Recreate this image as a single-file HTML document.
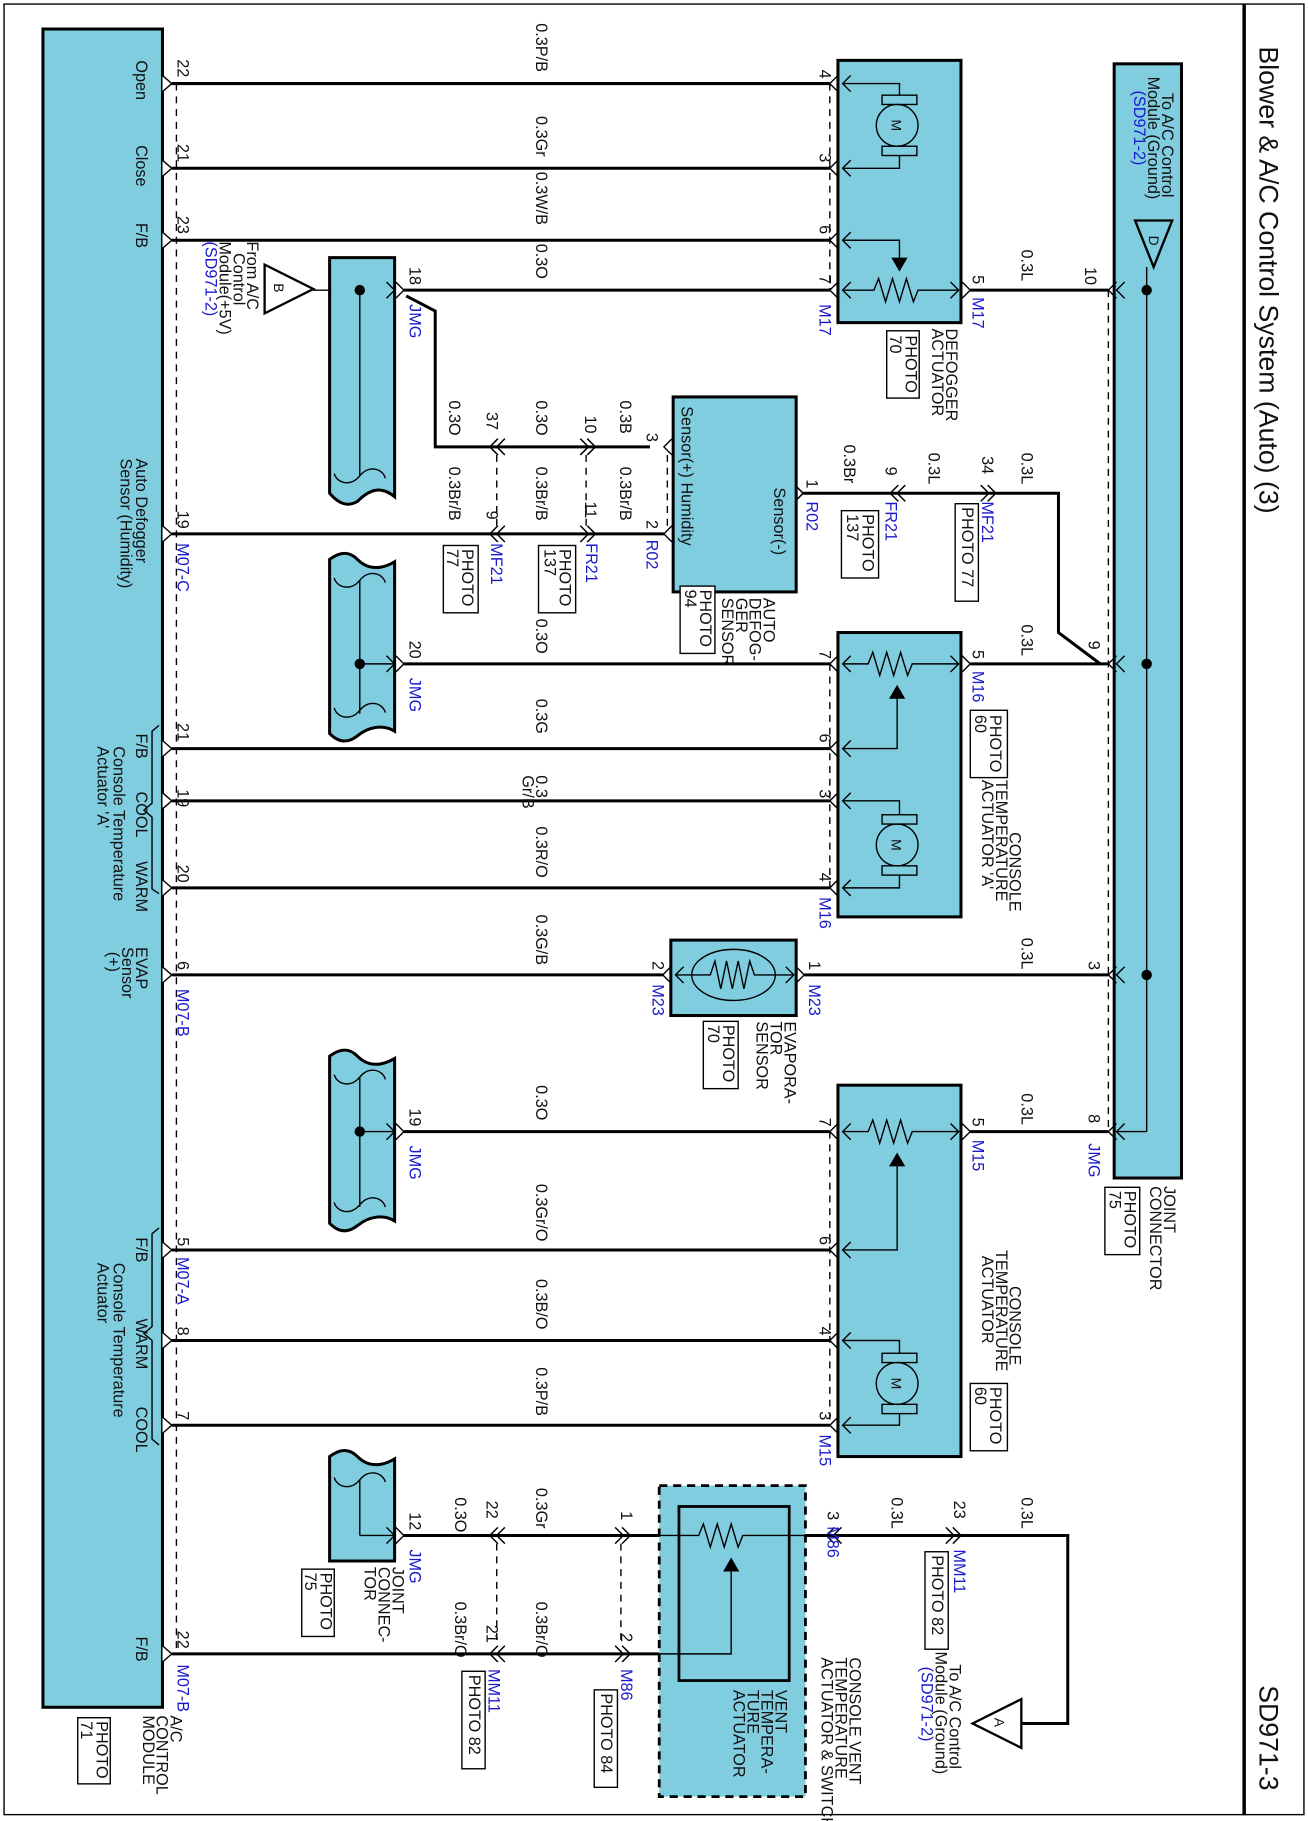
<!DOCTYPE html>
<html><head><meta charset="utf-8"><style>
html,body{margin:0;padding:0;background:#fff}
svg{display:block}
text{font-family:"Liberation Sans",sans-serif;font-size:14px;fill:#111}
.b{fill:#1a1acc}
.w{stroke:#000;stroke-width:2.6;fill:none}
.t{stroke:#000;stroke-width:1.2;fill:none}
.d{stroke:#000;stroke-width:1.2;fill:none;stroke-dasharray:6 5}
.box{fill:#80cde0;stroke:#000;stroke-width:2.6}
.pb{fill:#fff;stroke:#000;stroke-width:1.2}
</style></head><body>
<svg width="1308" height="1821" viewBox="0 0 1127 1569" preserveAspectRatio="none" xmlns="http://www.w3.org/2000/svg">
<defs>
<path id="pm" d="M0,-7 L8,0 L0,7" stroke="#000" stroke-width="1.2" fill="#fff"/>
<path id="pc" d="M7,-7 L0,0 L7,7" stroke="#000" stroke-width="1.2" fill="none"/>
<path id="pr" d="M-7,-7 L0,0 L-7,7" stroke="#000" stroke-width="1.2" fill="none"/>
<path id="ic" d="M4,-7 L-3,0 L4,7 M10,-7 L3,0 L10,7" stroke="#000" stroke-width="1.3" fill="none"/>
<path id="ir" d="M-4,-7 L3,0 L-4,7 M-10,-7 L-3,0 L-10,7" stroke="#000" stroke-width="1.3" fill="none"/>
</defs>
<rect x="3.5" y="3.5" width="1120" height="1560" fill="none" stroke="#000" stroke-width="1.2"/>
<line x1="1072" y1="3" x2="1072" y2="1564" stroke="#000" stroke-width="3"/>
<text transform="translate(1085,40) rotate(90)" style="font-size:23px">Blower &amp; A/C Control System (Auto) (3)</text>
<text transform="translate(1085,1452) rotate(90)" style="font-size:23px">SD971-3</text>

<!-- module -->
<rect class="box" x="37" y="25" width="103" height="1446"/>
<line class="d" x1="152" y1="72" x2="152" y2="1425"/>
<!-- joint connector right -->
<rect class="box" x="960" y="55" width="58" height="960"/>
<line class="t" x1="988" y1="230" x2="988" y2="975"/>
<line class="t" x1="988" y1="975" x2="962" y2="975"/>
<path d="M978,190 L1010,190 L994,230 Z" fill="none" stroke="#000" stroke-width="2"/>
<text transform="translate(990,203) rotate(90)" style="font-size:12px">D</text>
<g fill="#000"><circle cx="988" cy="250" r="4.5"/><circle cx="988" cy="572" r="4.5"/><circle cx="988" cy="840" r="4.5"/></g>
<line class="d" x1="955" y1="250" x2="955" y2="975"/>
<text transform="translate(1001,80) rotate(90)">To A/C Control</text>
<text transform="translate(989,66) rotate(90)">Module (Ground)</text>
<text class="b" transform="translate(977,78) rotate(90)">(SD971-2)</text>

<!-- defogger actuator -->
<rect class="box" x="722" y="52" width="106" height="226"/>
<line class="d" x1="715" y1="72" x2="715" y2="250"/>
<circle class="t" cx="773" cy="108" r="18"/><text transform="translate(768,103) rotate(90)" style="font-size:12px">M</text>
<rect class="t" x="760" y="82" width="30" height="8"/><rect class="t" x="760" y="126" width="30" height="8"/>
<path class="t" d="M726,72 H775 V82 M775,134 V145 H726"/>
<path class="t" d="M726,207 H775 V228"/><path d="M768,222 L782,222 L775,234 Z"/>
<path class="t" d="M726,250 H753 L757,240 L763,260 L769,240 L775,260 L781,240 L787,260 L791,250 H826"/>
<g><use href="#pc" x="726" y="72"/><use href="#pc" x="726" y="145"/><use href="#pc" x="726" y="207"/><use href="#pc" x="726" y="250"/><use href="#pr" x="826" y="250"/></g>
<text transform="translate(815,283) rotate(90)">DEFOGGER</text>
<text transform="translate(803,283) rotate(90)">ACTUATOR</text>
<rect class="pb" x="764" y="285" width="28" height="58"/>
<text transform="translate(780,289) rotate(90)">PHOTO</text><text transform="translate(767,289) rotate(90)">70</text>

<!-- wires top -->
<g class="w"><line x1="148" y1="72" x2="715" y2="72"/><line x1="148" y1="145" x2="715" y2="145"/><line x1="148" y1="207" x2="715" y2="207"/>
<line x1="348" y1="250" x2="715" y2="250"/><line x1="836" y1="250" x2="955" y2="250"/>
<path d="M350,255 L375,268 V385 H560"/>
<line x1="148" y1="460" x2="572" y2="460"/>
<path d="M692,425 H912 V545 L948,572"/>
<line x1="348" y1="572" x2="715" y2="572"/><line x1="836" y1="572" x2="955" y2="572"/>
<line x1="148" y1="645" x2="715" y2="645"/><line x1="148" y1="690" x2="715" y2="690"/><line x1="148" y1="765" x2="715" y2="765"/>
<line x1="148" y1="840" x2="571" y2="840"/><line x1="693" y1="840" x2="955" y2="840"/>
<line x1="348" y1="975" x2="715" y2="975"/><line x1="836" y1="975" x2="955" y2="975"/>
<line x1="148" y1="1077" x2="715" y2="1077"/><line x1="148" y1="1155" x2="715" y2="1155"/><line x1="148" y1="1228" x2="715" y2="1228"/>
<line x1="348" y1="1323" x2="568" y2="1323"/><path d="M694,1323 H920 V1485 H880"/>
<line x1="148" y1="1425" x2="568" y2="1425"/></g>
<g><use href="#pm" x="140" y="72"/><use href="#pm" x="140" y="145"/><use href="#pm" x="140" y="207"/><use href="#pm" x="140" y="460"/><use href="#pm" x="140" y="645"/><use href="#pm" x="140" y="690"/><use href="#pm" x="140" y="765"/><use href="#pm" x="140" y="840"/><use href="#pm" x="140" y="1077"/><use href="#pm" x="140" y="1155"/><use href="#pm" x="140" y="1228"/><use href="#pm" x="140" y="1425"/>
<use href="#pc" x="715" y="72"/><use href="#pc" x="715" y="145"/><use href="#pc" x="715" y="207"/><use href="#pc" x="715" y="250"/>
<use href="#pc" x="955" y="250"/><use href="#pc" x="962" y="250"/><use href="#pc" x="955" y="572"/><use href="#pc" x="962" y="572"/><use href="#pc" x="955" y="840"/><use href="#pc" x="962" y="840"/><use href="#pc" x="955" y="975"/><use href="#pc" x="962" y="975"/>
<use href="#pr" x="836" y="250"/><use href="#pr" x="836" y="572"/><use href="#pr" x="836" y="975"/><use href="#pr" x="348" y="250"/><use href="#pr" x="348" y="572"/><use href="#pr" x="348" y="975"/><use href="#pr" x="348" y="1323"/>
<use href="#ic" x="425" y="385"/><use href="#ir" x="510" y="385"/><use href="#ic" x="425" y="460"/><use href="#ir" x="510" y="460"/>
<use href="#pc" x="572" y="385"/><use href="#pc" x="572" y="460"/>
<use href="#pr" x="692" y="425"/><use href="#ic" x="770" y="425"/><use href="#ir" x="855" y="425"/>
<use href="#ic" x="425" y="1323"/><use href="#ir" x="540" y="1323"/><use href="#ic" x="425" y="1425"/><use href="#ir" x="540" y="1425"/><use href="#ic" x="715" y="1323"/><use href="#ir" x="825" y="1323"/></g>
<line class="d" x1="428" y1="392" x2="428" y2="453"/><line class="d" x1="505" y1="392" x2="505" y2="453"/><line class="d" x1="575" y1="392" x2="575" y2="453"/>
<line class="d" x1="428" y1="1330" x2="428" y2="1418"/><line class="d" x1="535" y1="1330" x2="535" y2="1418"/>

<!-- module texts -->
<text transform="translate(117,52) rotate(90)">Open</text>
<text transform="translate(117,125) rotate(90)">Close</text>
<text transform="translate(117,192) rotate(90)">F/B</text>
<text transform="translate(117,395) rotate(90)">Auto Defogger</text>
<text transform="translate(104,395) rotate(90)">Sensor (Humidity)</text>
<text transform="translate(117,632) rotate(90)">F/B</text>
<text transform="translate(117,682) rotate(90)">COOL</text>
<text transform="translate(117,742) rotate(90)">WARM</text>
<text transform="translate(98,643) rotate(90)">Console Temperature</text>
<text transform="translate(84,643) rotate(90)">Actuator 'A'</text>
<path class="t" d="M137,625 L131,630 V692 L124,698 L131,704 V766 L137,770"/>
<text transform="translate(117,816) rotate(90)">EVAP</text>
<text transform="translate(105,816) rotate(90)">Sensor</text>
<text transform="translate(93,820) rotate(90)">(+)</text>
<text transform="translate(117,1066) rotate(90)">F/B</text>
<text transform="translate(117,1136) rotate(90)">WARM</text>
<text transform="translate(117,1212) rotate(90)">COOL</text>
<text transform="translate(98,1088) rotate(90)">Console Temperature</text>
<text transform="translate(84,1088) rotate(90)">Actuator</text>
<path class="t" d="M137,1058 L131,1063 V1143 L124,1149 L131,1155 V1240 L137,1245"/>
<text transform="translate(117,1410) rotate(90)">F/B</text>
<text transform="translate(147,1478) rotate(90)">A/C</text>
<text transform="translate(135,1478) rotate(90)">CONTROL</text>
<text transform="translate(123,1478) rotate(90)">MODULE</text>
<rect class="pb" x="67" y="1480" width="28" height="57"/>
<text transform="translate(83,1483) rotate(90)">PHOTO</text><text transform="translate(70,1483) rotate(90)">71</text>

<!-- pin numbers near module -->
<g>
<text transform="translate(153,51) rotate(90)">22</text><text transform="translate(153,124) rotate(90)">21</text><text transform="translate(153,186) rotate(90)">23</text>
<text transform="translate(153,440) rotate(90)">19</text><text class="b" transform="translate(153,468) rotate(90)">M07-C</text>
<text transform="translate(153,623) rotate(90)">21</text><text transform="translate(153,680) rotate(90)">19</text><text transform="translate(153,745) rotate(90)">20</text>
<text transform="translate(153,828) rotate(90)">6</text><text class="b" transform="translate(153,852) rotate(90)">M07-B</text>
<text transform="translate(153,1066) rotate(90)">5</text><text class="b" transform="translate(153,1083) rotate(90)">M07-A</text>
<text transform="translate(153,1143) rotate(90)">8</text><text transform="translate(153,1216) rotate(90)">7</text>
<text transform="translate(153,1405) rotate(90)">22</text><text class="b" transform="translate(153,1434) rotate(90)">M07-B</text>
</g>

<!-- B triangle -->
<path d="M228,228 L228,270 L270,249 Z" fill="#fff" stroke="#000" stroke-width="2"/>
<text transform="translate(236,244) rotate(90)" style="font-size:12px">B</text>
<line class="t" x1="270" y1="250" x2="340" y2="250"/>
<text transform="translate(213,208) rotate(90)">From A/C</text>
<text transform="translate(201,218) rotate(90)">Control</text>
<text transform="translate(189,208) rotate(90)">Module(+5V)</text>
<text class="b" transform="translate(177,208) rotate(90)">(SD971-2)</text>

<!-- JMG bars -->
<path class="box" d="M284,222 H340 V428 C328,418 318,422 308,432 C298,438 290,432 284,425 Z"/>
<path class="box" d="M284,482 C292,476 300,474 308,482 C318,492 330,490 340,484 V630 C330,624 318,626 308,634 C298,642 290,638 284,632 Z"/>
<path class="box" d="M284,910 C292,904 300,902 308,910 C318,920 330,918 340,912 V1052 C330,1046 318,1048 308,1056 C298,1064 290,1060 284,1054 Z"/>
<path class="box" d="M284,1255 C292,1249 300,1247 308,1255 C318,1265 330,1263 340,1257 V1345 H284 Z"/>
<g class="t">
<line x1="310" y1="250" x2="310" y2="410"/><path d="M310,410 C318,400 330,404 332,412 M310,410 C302,420 290,416 288,408"/>
<line x1="310" y1="500" x2="310" y2="615"/><path d="M310,500 C318,490 330,494 332,502 M310,500 C302,510 290,506 288,498 M310,612 C318,602 330,606 332,614 M310,612 C302,622 290,618 288,610"/>
<line x1="310" y1="928" x2="310" y2="1040"/><path d="M310,928 C318,918 330,922 332,930 M310,928 C302,938 290,934 288,926 M310,1038 C318,1028 330,1032 332,1040 M310,1038 C302,1048 290,1044 288,1036"/>
<line x1="310" y1="1275" x2="310" y2="1323"/><path d="M310,1275 C318,1265 330,1269 332,1277 M310,1275 C302,1285 290,1281 288,1273"/>
<line x1="310" y1="572" x2="340" y2="572"/><line x1="310" y1="975" x2="340" y2="975"/><line x1="310" y1="1323" x2="340" y2="1323"/>
</g>
<g fill="#000"><circle cx="310" cy="250" r="4.5"/><circle cx="310" cy="572" r="4.5"/><circle cx="310" cy="975" r="4.5"/></g>
<g><use href="#pr" x="340" y="250"/><use href="#pr" x="340" y="572"/><use href="#pr" x="340" y="975"/><use href="#pr" x="340" y="1323"/></g>
<text transform="translate(353,230) rotate(90)">18</text><text class="b" transform="translate(353,262) rotate(90)">JMG</text>
<text transform="translate(353,552) rotate(90)">20</text><text class="b" transform="translate(353,584) rotate(90)">JMG</text>
<text transform="translate(353,955) rotate(90)">19</text><text class="b" transform="translate(353,987) rotate(90)">JMG</text>
<text transform="translate(353,1303) rotate(90)">12</text><text class="b" transform="translate(353,1335) rotate(90)">JMG</text>
<text transform="translate(338,1350) rotate(90)">JOINT</text><text transform="translate(326,1350) rotate(90)">CONNEC-</text><text transform="translate(314,1350) rotate(90)">TOR</text>
<rect class="pb" x="260" y="1352" width="28" height="58"/><text transform="translate(276,1355) rotate(90)">PHOTO</text><text transform="translate(263,1355) rotate(90)">75</text>

<!-- wire labels -->
<g>
<text transform="translate(462,20) rotate(90)">0.3P/B</text>
<text transform="translate(462,100) rotate(90)">0.3Gr</text>
<text transform="translate(462,148) rotate(90)">0.3W/B</text>
<text transform="translate(462,210) rotate(90)">0.3O</text>
<text transform="translate(880,215) rotate(90)">0.3L</text><text transform="translate(935,230) rotate(90)">10</text>
<text transform="translate(706,60) rotate(90)">4</text><text transform="translate(706,132) rotate(90)">3</text><text transform="translate(706,194) rotate(90)">6</text><text transform="translate(706,237) rotate(90)">7</text><text class="b" transform="translate(706,262) rotate(90)">M17</text>
<text transform="translate(838,237) rotate(90)">5</text><text class="b" transform="translate(838,256) rotate(90)">M17</text>
<text transform="translate(387,345) rotate(90)">0.3O</text><text transform="translate(419,355) rotate(90)">37</text>
<text transform="translate(462,345) rotate(90)">0.3O</text><text transform="translate(504,358) rotate(90)">10</text>
<text transform="translate(534,345) rotate(90)">0.3B</text><text transform="translate(557,373) rotate(90)">3</text>
<text transform="translate(387,402) rotate(90)">0.3Br/B</text><text transform="translate(419,440) rotate(90)">9</text>
<text transform="translate(462,402) rotate(90)">0.3Br/B</text><text transform="translate(504,432) rotate(90)">11</text>
<text transform="translate(534,402) rotate(90)">0.3Br/B</text><text transform="translate(557,448) rotate(90)">2</text>
<text class="b" transform="translate(423,468) rotate(90)">MF21</text><rect class="pb" x="382" y="470" width="30" height="58"/><text transform="translate(398,473) rotate(90)">PHOTO</text><text transform="translate(385,473) rotate(90)">77</text>
<text class="b" transform="translate(505,468) rotate(90)">FR21</text><rect class="pb" x="464" y="470" width="32" height="58"/><text transform="translate(482,473) rotate(90)">PHOTO</text><text transform="translate(469,473) rotate(90)">137</text>
<text class="b" transform="translate(557,465) rotate(90)">R02</text>
<text transform="translate(462,533) rotate(90)">0.3O</text>
</g>

<!-- sensor -->
<rect class="box" x="580" y="342" width="106" height="168"/>
<text transform="translate(587,350) rotate(90)">Sensor(+)  Humidity</text>
<text transform="translate(667,420) rotate(90)">Sensor(-)</text>
<use href="#pr" x="692" y="425"/>
<text transform="translate(695,413) rotate(90)">1</text><text class="b" transform="translate(695,432) rotate(90)">R02</text>
<text transform="translate(727,383) rotate(90)">0.3Br</text><text transform="translate(763,402) rotate(90)">9</text>
<text class="b" transform="translate(763,432) rotate(90)">FR21</text><rect class="pb" x="725" y="440" width="32" height="58"/><text transform="translate(743,443) rotate(90)">PHOTO</text><text transform="translate(730,443) rotate(90)">137</text>
<text transform="translate(800,390) rotate(90)">0.3L</text><text transform="translate(846,393) rotate(90)">34</text>
<text class="b" transform="translate(846,432) rotate(90)">MF21</text><rect class="pb" x="823" y="434" width="20" height="84"/><text transform="translate(829,437) rotate(90)">PHOTO 77</text>
<text transform="translate(880,390) rotate(90)">0.3L</text>
<text transform="translate(658,515) rotate(90)">AUTO</text><text transform="translate(646,515) rotate(90)">DEFOG-</text><text transform="translate(634,515) rotate(90)">GER</text><text transform="translate(622,515) rotate(90)">SENSOR</text>
<rect class="pb" x="586" y="505" width="30" height="58"/><text transform="translate(603,508) rotate(90)">PHOTO</text><text transform="translate(590,508) rotate(90)">94</text>

<!-- console temp actuator A -->
<rect class="box" x="722" y="545" width="106" height="245"/>
<line class="d" x1="715" y1="572" x2="715" y2="765"/>
<path class="t" d="M726,572 H748 L752,562 L758,582 L764,562 L770,582 L776,562 L782,582 L786,572 H826"/>
<path class="t" d="M726,645 H773 V600"/><path d="M766,602 L780,602 L773,590 Z"/>
<circle class="t" cx="773" cy="728" r="18"/><text transform="translate(768,723) rotate(90)" style="font-size:12px">M</text>
<rect class="t" x="760" y="702" width="30" height="8"/><rect class="t" x="760" y="746" width="30" height="8"/>
<path class="t" d="M726,690 H775 V702 M775,754 V765 H726"/>
<g><use href="#pc" x="726" y="572"/><use href="#pc" x="726" y="645"/><use href="#pc" x="726" y="690"/><use href="#pc" x="726" y="765"/><use href="#pr" x="826" y="572"/><use href="#pc" x="715" y="572"/><use href="#pc" x="715" y="645"/><use href="#pc" x="715" y="690"/><use href="#pc" x="715" y="765"/></g>
<text transform="translate(706,560) rotate(90)">7</text><text transform="translate(706,632) rotate(90)">6</text><text transform="translate(706,680) rotate(90)">3</text><text transform="translate(706,752) rotate(90)">4</text><text class="b" transform="translate(706,773) rotate(90)">M16</text>
<text transform="translate(838,560) rotate(90)">5</text><text class="b" transform="translate(838,578) rotate(90)">M16</text>
<rect class="pb" x="836" y="612" width="32" height="58"/><text transform="translate(853,616) rotate(90)">PHOTO</text><text transform="translate(840,616) rotate(90)">60</text>
<text transform="translate(870,717) rotate(90)">CONSOLE</text><text transform="translate(858,672) rotate(90)">TEMPERATURE</text><text transform="translate(846,672) rotate(90)">ACTUATOR 'A'</text>
<text transform="translate(880,538) rotate(90)">0.3L</text><text transform="translate(938,552) rotate(90)">9</text>
<text transform="translate(462,602) rotate(90)">0.3G</text>
<text transform="translate(462,668) rotate(90)">0.3</text><text transform="translate(450,668) rotate(90)">Gr/B</text>
<text transform="translate(462,712) rotate(90)">0.3R/O</text>
<text transform="translate(462,788) rotate(90)">0.3G/B</text>

<!-- evap -->
<rect class="box" x="578" y="810" width="108" height="65"/>
<ellipse class="t" cx="632" cy="840" rx="36" ry="22"/>
<path class="t" d="M582,840 H612 L616,828 L621,852 L626,828 L631,852 L636,828 L641,852 L646,828 L650,840 H684"/>
<g><use href="#pc" x="582" y="840"/><use href="#pr" x="684" y="840"/><use href="#pc" x="571" y="840"/><use href="#pr" x="693" y="840"/></g>
<text transform="translate(562,828) rotate(90)">2</text><text class="b" transform="translate(562,848) rotate(90)">M23</text>
<text transform="translate(697,828) rotate(90)">1</text><text class="b" transform="translate(697,848) rotate(90)">M23</text>
<text transform="translate(676,880) rotate(90)">EVAPORA-</text><text transform="translate(664,880) rotate(90)">TOR</text><text transform="translate(652,880) rotate(90)">SENSOR</text>
<rect class="pb" x="606" y="880" width="30" height="58"/><text transform="translate(623,883) rotate(90)">PHOTO</text><text transform="translate(610,883) rotate(90)">70</text>
<text transform="translate(880,808) rotate(90)">0.3L</text><text transform="translate(938,828) rotate(90)">3</text>

<!-- console temp actuator -->
<rect class="box" x="722" y="935" width="106" height="320"/>
<line class="d" x1="715" y1="975" x2="715" y2="1228"/>
<path class="t" d="M726,975 H748 L752,965 L758,985 L764,965 L770,985 L776,965 L782,985 L786,975 H826"/>
<path class="t" d="M726,1077 H773 V1003"/><path d="M766,1005 L780,1005 L773,993 Z"/>
<circle class="t" cx="773" cy="1192" r="18"/><text transform="translate(768,1187) rotate(90)" style="font-size:12px">M</text>
<rect class="t" x="760" y="1166" width="30" height="8"/><rect class="t" x="760" y="1210" width="30" height="8"/>
<path class="t" d="M726,1155 H775 V1166 M775,1218 V1228 H726"/>
<g><use href="#pc" x="726" y="975"/><use href="#pc" x="726" y="1077"/><use href="#pc" x="726" y="1155"/><use href="#pc" x="726" y="1228"/><use href="#pr" x="826" y="975"/><use href="#pc" x="715" y="975"/><use href="#pc" x="715" y="1077"/><use href="#pc" x="715" y="1155"/><use href="#pc" x="715" y="1228"/></g>
<text transform="translate(706,963) rotate(90)">7</text><text transform="translate(706,1065) rotate(90)">6</text><text transform="translate(706,1143) rotate(90)">4</text><text transform="translate(706,1216) rotate(90)">3</text><text class="b" transform="translate(706,1236) rotate(90)">M15</text>
<text transform="translate(838,963) rotate(90)">5</text><text class="b" transform="translate(838,982) rotate(90)">M15</text>
<text transform="translate(870,1108) rotate(90)">CONSOLE</text><text transform="translate(858,1077) rotate(90)">TEMPERATURE</text><text transform="translate(846,1082) rotate(90)">ACTUATOR</text>
<rect class="pb" x="836" y="1192" width="32" height="58"/><text transform="translate(853,1195) rotate(90)">PHOTO</text><text transform="translate(840,1195) rotate(90)">60</text>
<text transform="translate(880,942) rotate(90)">0.3L</text><text transform="translate(938,960) rotate(90)">8</text><text class="b" transform="translate(938,985) rotate(90)">JMG</text>
<text transform="translate(462,935) rotate(90)">0.3O</text>
<text transform="translate(462,1020) rotate(90)">0.3Gr/O</text>
<text transform="translate(462,1102) rotate(90)">0.3B/O</text>
<text transform="translate(462,1178) rotate(90)">0.3P/B</text>
<text transform="translate(1003,1022) rotate(90)">JOINT</text><text transform="translate(991,1022) rotate(90)">CONNECTOR</text>
<rect class="pb" x="952" y="1023" width="30" height="58"/><text transform="translate(969,1026) rotate(90)">PHOTO</text><text transform="translate(956,1026) rotate(90)">75</text>

<!-- vent actuator -->
<rect x="568" y="1280" width="126" height="268" fill="#80cde0" stroke="#000" stroke-width="2.4" stroke-dasharray="7 5"/>
<rect x="585" y="1298" width="95" height="150" fill="none" stroke="#000" stroke-width="2.4"/>
<path class="t" d="M568,1323 H602 L606,1313 L612,1333 L618,1313 L624,1333 L630,1313 L636,1333 L640,1323 H694"/>
<path class="t" d="M568,1425 H630 V1352"/><path d="M623,1354 L637,1354 L630,1342 Z"/>
<text transform="translate(392,1290) rotate(90)">0.3O</text><text transform="translate(419,1293) rotate(90)">22</text>
<text transform="translate(462,1282) rotate(90)">0.3Gr</text><text transform="translate(535,1302) rotate(90)">1</text>
<text transform="translate(392,1380) rotate(90)">0.3Br/O</text><text transform="translate(419,1400) rotate(90)">21</text>
<text transform="translate(462,1380) rotate(90)">0.3Br/O</text><text transform="translate(535,1407) rotate(90)">2</text>
<text class="b" transform="translate(421,1438) rotate(90)">MM11</text><rect class="pb" x="398" y="1440" width="20" height="84"/><text transform="translate(404,1443) rotate(90)">PHOTO 82</text>
<text class="b" transform="translate(535,1438) rotate(90)">M86</text><rect class="pb" x="512" y="1456" width="20" height="84"/><text transform="translate(518,1459) rotate(90)">PHOTO 84</text>
<text transform="translate(713,1302) rotate(90)">3</text><text class="b" transform="translate(713,1315) rotate(90)">M86</text>
<text transform="translate(768,1290) rotate(90)">0.3L</text><text transform="translate(822,1293) rotate(90)">23</text>
<text class="b" transform="translate(822,1335) rotate(90)">MM11</text><rect class="pb" x="797" y="1337" width="20" height="84"/><text transform="translate(803,1340) rotate(90)">PHOTO 82</text>
<text transform="translate(880,1290) rotate(90)">0.3L</text>
<text transform="translate(668,1456) rotate(90)">VENT</text><text transform="translate(656,1456) rotate(90)">TEMPERA-</text><text transform="translate(644,1456) rotate(90)">TURE</text><text transform="translate(632,1456) rotate(90)">ACTUATOR</text>
<text transform="translate(732,1428) rotate(90)">CONSOLE VENT</text><text transform="translate(720,1428) rotate(90)">TEMPERATURE</text><text transform="translate(708,1428) rotate(90)">ACTUATOR &amp; SWITCH</text>
<path d="M880,1464 L880,1506 L838,1485 Z" fill="#fff" stroke="#000" stroke-width="2"/>
<text transform="translate(857,1480) rotate(90)" style="font-size:12px">A</text>
<text transform="translate(818,1434) rotate(90)">To A/C Control</text>
<text transform="translate(806,1423) rotate(90)">Module (Ground)</text>
<text class="b" transform="translate(794,1436) rotate(90)">(SD971-2)</text>
</svg>
</body></html>
